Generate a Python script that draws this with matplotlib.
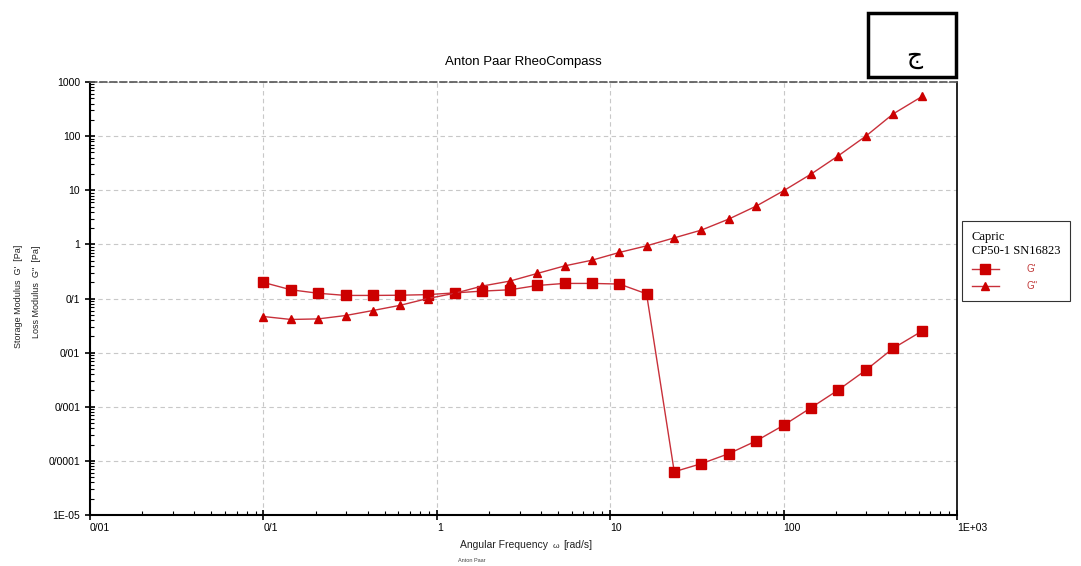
import matplotlib.pyplot as plt
from matplotlib.patches import Rectangle
from matplotlib.ticker import FixedLocator, LogLocator, NullFormatter

# angular frequency [rad/s]
omega = [0.1, 0.144, 0.207, 0.298, 0.428, 0.616, 0.886, 1.27, 1.83, 2.64,
         3.79, 5.45, 7.84, 11.3, 16.2, 23.4, 33.6, 48.3, 69.5, 100,
         144, 207, 298, 428, 628]

# storage modulus G' [Pa]
g_storage = [0.198, 0.145, 0.125, 0.114, 0.114, 0.115, 0.118, 0.127, 0.137, 0.145,
             0.174, 0.19, 0.19, 0.185, 0.122, 6.3e-5, 8.9e-5, 1.36e-4, 2.34e-4, 4.55e-4,
             9.6e-4, 2.05e-3, 4.75e-3, 0.012, 0.025]

# loss modulus G'' [Pa]
g_loss = [0.0465, 0.041, 0.042, 0.0485, 0.06, 0.075, 0.1, 0.125, 0.17, 0.21,
          0.29, 0.40, 0.51, 0.71, 0.94, 1.32, 1.84, 2.94, 5.1, 9.8,
          19.9, 43.5, 100, 257, 540]

x_ticks = [0.01, 0.1, 1, 10, 100, 1000]
x_ticklabels = ['0/01', '0/1', '1', '10', '100', '1E+03']
y_ticks = [1e-5, 1e-4, 1e-3, 1e-2, 0.1, 1, 10, 100, 1000]
y_ticklabels = ['1E-05', '0/0001', '0/001', '0/01', '0/1', '1', '10', '100', '1000']

plt.rcParams['font.family'] = ['Liberation Sans', 'DejaVu Sans']

fig = plt.figure(figsize=(10.81, 5.66), dpi=100)
ax = fig.add_axes([0.0833, 0.0901, 0.8020, 0.7650])

mark_red = '#cc0000'
line_red = '#c8303a'
l1, = ax.plot(omega, g_storage, color=line_red, lw=1.0, marker='s', ms=7,
              mfc=mark_red, mec=mark_red)
l2, = ax.plot(omega, g_loss, color=line_red, lw=1.0, marker='^', ms=6,
              mfc=mark_red, mec=mark_red)

ax.set_xscale('log')
ax.set_yscale('log')
ax.set_xlim(0.01, 1000)
ax.set_ylim(1e-5, 1000)

ax.xaxis.set_major_locator(FixedLocator(x_ticks))
ax.set_xticklabels(x_ticklabels)
ax.yaxis.set_major_locator(FixedLocator(y_ticks))
ax.set_yticklabels(y_ticklabels)
ax.xaxis.set_minor_locator(LogLocator(base=10, subs=range(2, 10), numticks=20))
ax.yaxis.set_minor_locator(LogLocator(base=10, subs=range(2, 10), numticks=20))
ax.xaxis.set_minor_formatter(NullFormatter())
ax.yaxis.set_minor_formatter(NullFormatter())

ax.tick_params(which='major', direction='inout', length=7, width=1.2,
               labelsize=7.5, colors='black')
ax.tick_params(which='minor', direction='in', length=3, width=0.8)
ax.tick_params(axis='x', pad=2)
for lab in ax.get_xticklabels():
    lab.set_horizontalalignment('left')

ax.grid(True, which='major', ls=(0, (4, 3)), color='#c8c8c8', lw=0.8)

ax.spines['left'].set_linewidth(1.5)
ax.spines['bottom'].set_linewidth(1.5)
ax.spines['right'].set_linewidth(1.2)
ax.spines['top'].set_linestyle((0, (4, 2)))
ax.spines['top'].set_color('#555555')
ax.spines['top'].set_linewidth(1.2)

ax.set_title('Anton Paar RheoCompass', fontsize=9.5, pad=12)

# two-line y label, as the rheometer software prints it
fig.text(0.017, 0.567, "Storage Modulus  G'  [Pa]", rotation=90, fontsize=6.5,
         ha='center', va='top', color='#222222')
fig.text(0.034, 0.567, "Loss Modulus  G''  [Pa]", rotation=90, fontsize=6.5,
         ha='center', va='top', color='#222222')

fig.text(0.510, 0.037, 'Angular Frequency ', fontsize=7.5, ha='right',
         va='center', color='#222222')
fig.text(0.511, 0.034, '\u03c9', fontsize=6, ha='left', va='center',
         color='#222222')
fig.text(0.521, 0.037, '[rad/s]', fontsize=7.5, ha='left', va='center',
         color='#222222')
fig.text(0.436, 0.006, 'Anton Paar', fontsize=4, ha='center', va='bottom',
         color='#444444')

leg = fig.legend([l1, l2], ["G'", "G''"], loc='upper left',
                 bbox_to_anchor=(0.890, 0.609), frameon=True, fancybox=False,
                 edgecolor='black', fontsize=7, labelcolor='#c03838',
                 title='Capric\nCP50-1 SN16823',
                 title_fontproperties={'family': 'Liberation Serif', 'size': 9},
                 handlelength=2.8, handletextpad=2.8, borderpad=1.0,
                 labelspacing=0.75, borderaxespad=0)
leg._legend_box.align = 'left'
leg.get_frame().set_linewidth(0.8)

fig.patches.append(Rectangle((0.803, 0.864), 0.0814, 0.113,
                             transform=fig.transFigure, fill=False,
                             edgecolor='black', lw=2.5))
fig.text(0.8460, 0.900, '\u062c', fontsize=18, ha='center', va='center',
         family=['DejaVu Sans'])

fig.savefig('out.png', dpi=100)
